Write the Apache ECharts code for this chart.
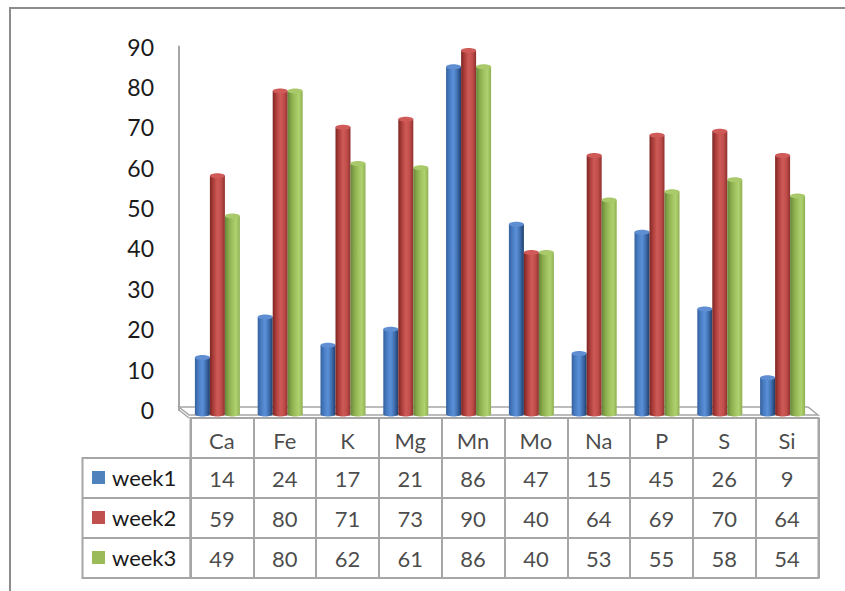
<!DOCTYPE html>
<html>
<head>
<meta charset="utf-8">
<title>week1 / week2 / week3</title>
<script src="https://cdn.jsdelivr.net/npm/echarts@6/dist/echarts.min.js"></script>
<style>
  html, body { margin: 0; padding: 0; background: #ffffff; }
  #chart { width: 845px; height: 591px; }
</style>
</head>
<body>
<div id="chart"></div>
<script>
// Element categories and weekly values
const categories = ['Ca', 'Fe', 'K', 'Mg', 'Mn', 'Mo', 'Na', 'P', 'S', 'Si'];
const week1 = [14, 24, 17, 21, 86, 47, 15, 45, 26, 9];
const week2 = [59, 80, 71, 73, 90, 40, 64, 69, 70, 64];
const week3 = [49, 80, 62, 61, 86, 40, 53, 55, 58, 54];
const seriesNames = ['week1', 'week2', 'week3'];
const yMin = 0;
const yMax = 90;
const yStep = 10;

const weeks = [week1, week2, week3];
const FONT = 'Lato, "Open Sans", "Liberation Sans", sans-serif';
const TEXT = '#1a1a1a';
const LINE = '#a6a6a6';

// Cylinder shading per series: side gradient, cap colour and legend colour
const looks = [
  { base: '#4f81bd', cap: '#5f8fd2',
    side: ['#34619f', '#4a7ec4', '#5b90d8', '#3f6eae', '#1f3d6b'] },
  { base: '#c0504d', cap: '#cf5a57',
    side: ['#7c2624', '#b0403d', '#cd5a57', '#c24e4b', '#8e302e'] },
  { base: '#9bbb59', cap: '#a9c96a',
    side: ['#66863a', '#8aab4c', '#9fc15e', '#b0d16f', '#8fb052'] }
];

function sideGradient(colors) {
  const n = colors.length - 1;
  return {
    type: 'linear', x: 0, y: 0, x2: 1, y2: 0,
    colorStops: colors.map((c, i) => ({ offset: i / n, color: c }))
  };
}

function cylinder(k) {
  const look = looks[k];
  return function (params, api) {
    const ci = api.value(0);
    const v = api.value(1);
    const base = api.coord([ci, 0]);
    const top = api.coord([ci, v]);
    const bw = 15;
    const x0 = base[0] - 1.5 * bw + k * bw;
    const ry = 2.5;
    const fill = sideGradient(look.side);
    return {
      type: 'group',
      children: [
        { type: 'ellipse', shape: { cx: x0 + bw / 2, cy: base[1], rx: bw / 2, ry: ry },
          style: { fill: fill } },
        { type: 'rect', shape: { x: x0, y: top[1], width: bw, height: base[1] - top[1] },
          style: { fill: fill } },
        { type: 'ellipse', shape: { cx: x0 + bw / 2, cy: top[1], rx: bw / 2, ry: ry },
          style: { fill: look.cap } }
      ]
    };
  };
}

const barSeries = weeks.map((vals, k) => ({
  name: seriesNames[k],
  type: 'custom',
  xAxisIndex: 1,
  yAxisIndex: 1,
  z: 5,
  itemStyle: { color: looks[k].base },
  encode: { x: 0, y: 1 },
  renderItem: cylinder(k),
  data: vals.map((v, i) => [i, v])
}));

const cellLabel = {
  show: true,
  position: 'inside',
  fontSize: 22,
  fontFamily: FONT,
  color: TEXT
};

// Header row of the data table (category names)
const headerSeries = {
  name: 'table-header',
  type: 'scatter',
  xAxisIndex: 2,
  yAxisIndex: 2,
  symbol: 'rect',
  symbolSize: 1,
  itemStyle: { color: 'transparent' },
  label: Object.assign({}, cellLabel, {
    offset: [0, 2],
    formatter: p => categories[p.value[0]]
  }),
  data: categories.map((c, i) => [i, 0])
};

// Value rows of the data table
const rowSeries = weeks.map((vals, k) => ({
  name: 'table-' + seriesNames[k],
  type: 'scatter',
  xAxisIndex: 2,
  yAxisIndex: 2,
  symbol: 'rect',
  symbolSize: 1,
  itemStyle: { color: 'transparent' },
  label: Object.assign({}, cellLabel, {
    formatter: p => String(p.value[2])
  }),
  data: vals.map((v, i) => [i, k + 1, v])
}));

const chart = echarts.init(document.getElementById('chart'), null, { renderer: 'svg' });

chart.setOption({
  animation: false,
  backgroundColor: '#ffffff',
  textStyle: { fontFamily: FONT },
  grid: [
    // visible value axis
    { left: 179, top: 46.5, width: 629, height: 363.5 },
    // cylinders (plotted on the 3D floor, slightly lower and to the right)
    { left: 186, top: 50.5, width: 628, height: 363.5 },
    // data table: header + value rows
    { left: 190.5, top: 418, width: 628, height: 160,
      show: true, borderColor: LINE, borderWidth: 2, backgroundColor: 'transparent' },
    // data table: series key column
    { left: 82.5, top: 458, width: 108, height: 120,
      show: true, borderColor: LINE, borderWidth: 2, backgroundColor: 'transparent' }
  ],
  xAxis: [
    { gridIndex: 0, type: 'category', data: categories, show: false },
    { gridIndex: 1, type: 'category', data: categories, show: false },
    { gridIndex: 2, type: 'category', data: categories,
      axisLine: { show: false }, axisTick: { show: false }, axisLabel: { show: false },
      splitLine: { show: true, interval: 0, lineStyle: { color: LINE, width: 2 } } },
    { gridIndex: 3, type: 'value', min: 0, max: 1, show: false }
  ],
  yAxis: [
    { gridIndex: 0, type: 'value', min: yMin, max: yMax, interval: yStep,
      axisLine: { show: true, lineStyle: { color: LINE, width: 2 } },
      axisTick: { show: false },
      splitLine: { show: false },
      axisLabel: { fontSize: 23, fontFamily: FONT, color: TEXT, margin: 25 } },
    { gridIndex: 1, type: 'value', min: yMin, max: yMax, interval: yStep, show: false,
      splitLine: { show: false } },
    { gridIndex: 2, type: 'category', inverse: true, data: [''].concat(seriesNames),
      axisLine: { show: false }, axisTick: { show: false }, axisLabel: { show: false },
      splitLine: { show: true, interval: 0, lineStyle: { color: LINE, width: 2 } } },
    { gridIndex: 3, type: 'category', inverse: true, data: seriesNames,
      axisLine: { show: false }, axisTick: { show: false }, axisLabel: { show: false },
      splitLine: { show: true, interval: 0, lineStyle: { color: LINE, width: 2 } } }
  ],
  legend: {
    data: seriesNames,
    orient: 'vertical',
    left: 92,
    top: 466.5,
    padding: 0,
    icon: 'rect',
    itemWidth: 13,
    itemHeight: 13,
    itemGap: 18,
    selectedMode: false,
    textStyle: { fontSize: 22, lineHeight: 22, fontFamily: FONT, color: TEXT, padding: [0, 0, 0, 2] }
  },
  graphic: [
    // outer chart frame
    { type: 'rect', silent: true, z: -10,
      shape: { x: 10, y: 8, width: 1000, height: 1000 },
      style: { fill: 'none', stroke: '#8c8c8c', lineWidth: 2 } },
    // 3D floor under the cylinders
    { type: 'polygon', silent: true, z: 1,
      shape: { points: [[179, 407], [808, 407], [818, 415], [189, 415]] },
      style: { fill: '#ffffff', stroke: LINE, lineWidth: 1.5 } },
    { type: 'polyline', silent: true, z: 1,
      shape: { points: [[179, 407], [179, 410], [189, 418]] },
      style: { fill: 'none', stroke: LINE, lineWidth: 1.5 } }
  ],
  series: barSeries.concat([headerSeries], rowSeries)
});
</script>
</body>
</html>
